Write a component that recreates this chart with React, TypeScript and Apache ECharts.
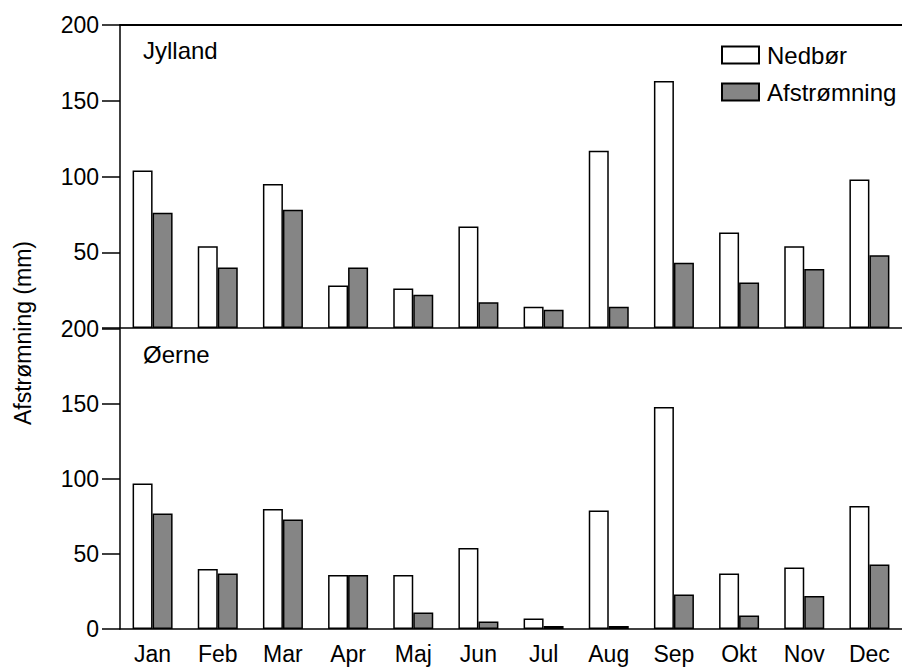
import React, { useEffect, useRef } from "react";
import * as echarts from "echarts";

const months = ["Jan", "Feb", "Mar", "Apr", "Maj", "Jun", "Jul", "Aug", "Sep", "Okt", "Nov", "Dec"];
const jyllandNedbor = [104, 54, 95, 28, 26, 67, 14, 117, 163, 63, 54, 98];
const jyllandAfstromning = [76, 40, 78, 40, 22, 17, 12, 14, 43, 30, 39, 48];
const oerneNedbor = [97, 40, 80, 36, 36, 54, 7, 79, 148, 37, 41, 82];
const oerneAfstromning = [77, 37, 73, 36, 11, 5, 2, 2, 23, 9, 22, 43];
const panelNames = ["Jylland", "Øerne"];
const seriesNames = ["Nedbør", "Afstrømning"];
const yAxisTitle = "Afstrømning (mm)";

const FONT = "'Liberation Sans', Arial, Helvetica, sans-serif";

export default function App() {
  const ref = useRef<HTMLDivElement>(null);
  useEffect(() => {
    if (!ref.current) return;
    const chart = echarts.init(ref.current, null, { renderer: "svg" });
    const black = "#000";
    const grey = "#858585";
    const yAxisBase = (gridIndex: number, hideZero: boolean) => ({
      type: "value",
      gridIndex,
      min: 0,
      max: 200,
      interval: 50,
      axisLine: { show: true, lineStyle: { color: black, width: 1.5 } },
      axisTick: { show: true, inside: false, length: 18, lineStyle: { color: black, width: 1.5 } },
      axisLabel: {
        margin: 21,
        color: black,
        fontFamily: FONT,
        fontSize: 23,
        formatter: (v: number) => (hideZero && v === 0 ? "" : String(v)),
      },
      splitLine: { show: false },
    });
    const xBase = (gridIndex: number, showLabels: boolean) => ({
      type: "category",
      gridIndex,
      data: months,
      axisLine: { show: true, lineStyle: { color: black, width: 1.5 } },
      axisTick: { show: false },
      axisLabel: { show: showLabels, margin: 13, color: black, fontFamily: FONT, fontSize: 23 },
    });
    const bar = (name: string, data: number[], idx: number, fill: string) => ({
      name,
      type: "bar",
      xAxisIndex: idx,
      yAxisIndex: idx,
      data,
      barWidth: 20,
      barGap: "0%",
      itemStyle: { color: fill, borderColor: black, borderWidth: 1.5 },
    });
    chart.setOption({
      animation: false,
      backgroundColor: "#fff",
      textStyle: { fontFamily: FONT },
      title: [
        { text: panelNames[0], left: 143, top: 38, padding: 0, textStyle: { fontFamily: FONT, fontSize: 24, fontWeight: "normal", color: black } },
        { text: panelNames[1], left: 143, top: 342, padding: 0, textStyle: { fontFamily: FONT, fontSize: 24, fontWeight: "normal", color: black } },
      ],
      legend: {
        orient: "vertical",
        left: 721,
        top: 43,
        padding: 0,
        itemWidth: 37,
        itemHeight: 17,
        itemGap: 13,
        icon: "rect",
        textStyle: { fontFamily: FONT, fontSize: 24, color: black, lineHeight: 17, padding: [0, 0, 0, 3] },
        data: seriesNames,
      },
      grid: [
        { left: 120, top: 25, width: 792, height: 303 },
        { left: 120, top: 329, width: 792, height: 300 },
      ],
      xAxis: [
        xBase(0, false),
        xBase(1, true),
        { ...xBase(0, false), position: "top", axisLine: { show: true, lineStyle: { color: black, width: 2 } } },
      ],
      yAxis: [yAxisBase(0, true), yAxisBase(1, false)],
      graphic: [
        {
          type: "text",
          x: 23,
          y: 333,
          rotation: Math.PI / 2,
          style: {
            text: yAxisTitle,
            fontFamily: FONT,
            fontSize: 23,
            fill: black,
            align: "center",
            verticalAlign: "middle",
          },
        },
      ],
      series: [
        bar(seriesNames[0], jyllandNedbor, 0, "#fff"),
        bar(seriesNames[1], jyllandAfstromning, 0, grey),
        bar(seriesNames[0], oerneNedbor, 1, "#fff"),
        bar(seriesNames[1], oerneAfstromning, 1, grey),
      ],
    });
    return () => chart.dispose();
  }, []);
  return <div ref={ref} style={{ position: "absolute", left: 0, top: 0, width: 902, height: 668 }} />;
}
